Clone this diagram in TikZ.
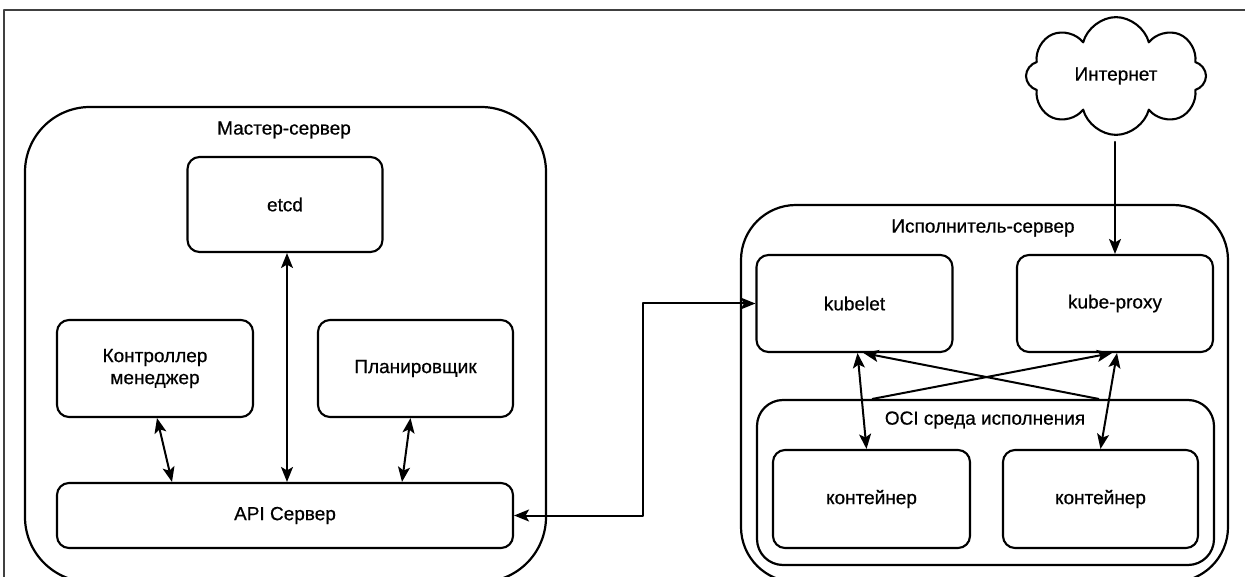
\documentclass[tikz,border=0pt]{standalone}
\usepackage{fontspec}
\setmainfont{Liberation Sans}
\newfontfamily\diagfont{Liberation Sans}[FakeBold=0.6]
\usetikzlibrary{arrows.meta,shapes.symbols}

\begin{document}
\begin{tikzpicture}[x=1pt, y=-1pt, line join=round, line cap=round,
    >={Stealth[length=15pt,width=12pt,inset=3.5pt]},
    txt/.style={font=\diagfont\fontsize{19}{22}\selectfont, align=center},
    box/.style={draw, txt, line width=2.1pt, rounded corners=12pt, inner sep=0pt,
        minimum width=#1},
    frame/.style={draw, line width=2.2pt, inner sep=0pt},
    arr/.style={line width=2pt, <->}]

    \useasboundingbox (0,0) rectangle (1245,577);
    \clip (0,0) rectangle (1245,577);

    % page-frame
    \draw[line width=1.2pt, black!75] (4,577) -- (4,10) -- (1245,10);

    % master-server
    \node[frame, rounded corners=65pt, minimum width=521pt, minimum height=475pt] (master) at (285.5,344.5) {};
    \node[txt] (mastertitle) at (284,130) {Мастер-сервер};
    \node[box=195pt, minimum height=95pt] (etcd) at (285,204.5) {etcd};
    \node[box=196pt, minimum height=97pt] (ctrl) at (155,368.5) {Контроллер\\менеджер};
    \node[box=195pt, minimum height=97pt] (sched) at (415.5,368.5) {Планировщик};
    \node[box=456pt, minimum height=65pt] (api) at (285,515.5) {API Сервер};

    \draw[arr] ([xshift=2]ctrl.south) -- ([xshift=-113]api.north);
    \draw[arr] ([xshift=2]etcd.south) -- ([xshift=2]api.north);
    \draw[arr] ([xshift=-5]sched.south) -- ([xshift=117]api.north);

    % worker-server
    \node[frame, rounded corners=55pt, minimum width=487pt, minimum height=377pt] (worker) at (984.5,393.5) {};
    \node[txt] (workertitle) at (983,228) {Исполнитель-сервер};
    \node[box=196pt, minimum height=97pt] (kubelet) at (854.5,303.5) {kubelet};
    \node[box=196pt, minimum height=97pt] (proxy) at (1115,303.5) {kube-proxy};

    % oci-runtime
    \node[frame, rounded corners=26pt, minimum width=457pt, minimum height=165pt] (oci) at (985.5,482.5) {};
    \node[txt] (ocititle) at (985,420) {OCI среда исполнения};
    \node[box=197pt, minimum height=98pt] (cont1) at (871.5,499) {контейнер};
    \node[box=195pt, minimum height=98pt] (cont2) at (1100.5,499) {контейнер};

    \draw[arr] ([xshift=3]kubelet.south) -- ([xshift=-5]cont1.north);
    \draw[arr] ([xshift=2]proxy.south) -- (cont2.north);
    \draw[line width=2pt, ->] ([xshift=-113]oci.north) -- ([xshift=-3]proxy.south);
    \draw[line width=2pt, ->] ([xshift=113]oci.north) -- ([xshift=9]kubelet.south);

    % internet
    \node[cloud, draw, txt, cloud puffs=8, aspect=1.3, line width=2.1pt, inner sep=0pt,
        minimum width=180pt, minimum height=110pt] (net) at (1116,76) {Интернет};
    \draw[line width=2pt, ->, shorten <=6pt] (proxy.north |- net.south) -- (proxy.north);

    % master <-> worker
    \coordinate (bend) at (643,0);
    \draw[arr] (api.east) -| (bend |- kubelet.west) -- (kubelet.west);
\end{tikzpicture}
\end{document}
